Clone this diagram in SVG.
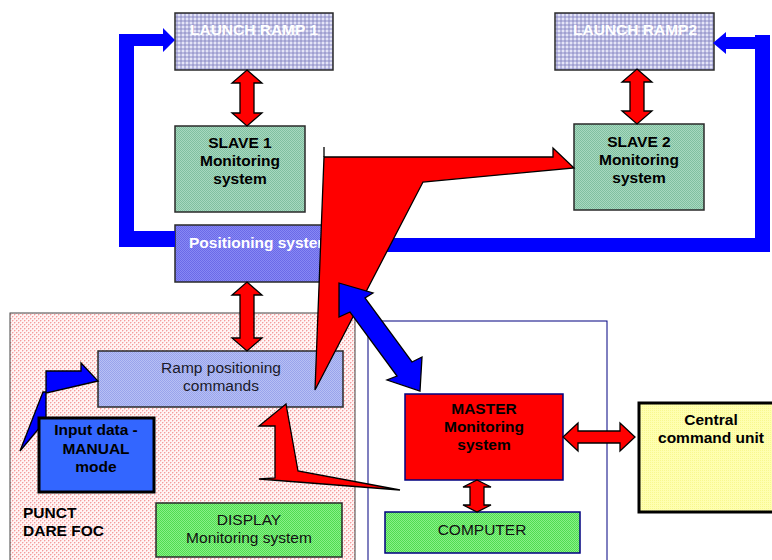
<svg xmlns="http://www.w3.org/2000/svg" width="772" height="560" viewBox="0 0 772 560">
<defs>
<pattern id="pLav" width="4" height="4" patternUnits="userSpaceOnUse"><rect width="4" height="4" fill="#e4e4f6"/><rect width="4" height="2" fill="#b8b8e0"/><rect width="2" height="4" fill="#b8b8e0"/><rect width="2" height="2" fill="#a0a0d0"/></pattern>
<pattern id="pSlave" width="2" height="2" patternUnits="userSpaceOnUse"><rect width="2" height="2" fill="#a8d8c0"/><rect width="1" height="1" fill="#80c0a0"/><rect x="1" y="1" width="1" height="1" fill="#80c0a0"/></pattern>
<pattern id="pPos" width="2" height="2" patternUnits="userSpaceOnUse"><rect width="2" height="2" fill="#8888f4"/><rect width="1" height="1" fill="#6a6ae8"/><rect x="1" y="1" width="1" height="1" fill="#6a6ae8"/></pattern>
<pattern id="pCmd" width="2" height="2" patternUnits="userSpaceOnUse"><rect width="2" height="2" fill="#b8c0f4"/><rect width="1" height="1" fill="#98a4ec"/><rect x="1" y="1" width="1" height="1" fill="#98a4ec"/></pattern>
<pattern id="pPink" width="4" height="4" patternUnits="userSpaceOnUse"><rect width="4" height="4" fill="#fff4f4"/><rect width="1" height="1" fill="#f49c9c"/><rect x="2" y="2" width="1" height="1" fill="#f49c9c"/><rect x="1" y="0" width="1" height="1" fill="#fad0d0"/><rect x="3" y="2" width="1" height="1" fill="#fad0d0"/><rect x="0" y="1" width="1" height="1" fill="#fad0d0"/><rect x="2" y="3" width="1" height="1" fill="#fad0d0"/></pattern>
<pattern id="pGreen" width="2" height="2" patternUnits="userSpaceOnUse"><rect width="2" height="2" fill="#88f088"/><rect width="1" height="1" fill="#50dc50"/><rect x="1" y="1" width="1" height="1" fill="#50dc50"/></pattern>
<pattern id="pYel" width="2" height="2" patternUnits="userSpaceOnUse"><rect width="2" height="2" fill="#ffffb0"/><rect width="1" height="1" fill="#f8f890"/></pattern>
<clipPath id="posClip"><rect x="175" y="225" width="145" height="57"/></clipPath>
<style>
text{font-family:"Liberation Sans",Arial,sans-serif;font-size:15.5px;text-anchor:middle}
.b{font-weight:bold}
.w{fill:#ffffff}
.k{fill:#000000}
.red{fill:#ff0000;stroke:#000;stroke-width:1.3;stroke-linejoin:miter}
.blue{fill:#0000ff;stroke:#000;stroke-width:1.3}
.bar{fill:#0000ff;stroke:none}
.box{stroke:#2a2a2a;stroke-width:1.5}
</style>
</defs>
<rect width="772" height="560" fill="#ffffff"/>

<g id="panel-punct">
<rect x="10" y="313" width="345" height="252" fill="url(#pPink)" stroke="#444" stroke-width="1"/>
<text class="b k" x="23" y="518" style="text-anchor:start">PUNCT</text>
<text class="b k" x="23" y="536" style="text-anchor:start">DARE FOC</text>
</g>
<g id="panel-master">
<rect x="368" y="321" width="239" height="245" fill="#ffffff" stroke="#000080" stroke-width="1"/>
</g>

<g id="launch-ramp-1">
<rect class="box" x="175" y="13" width="158" height="57" fill="url(#pLav)"/>
<text class="b w" x="254" y="35">LAUNCH RAMP 1</text>
</g>
<g id="launch-ramp-2">
<rect class="box" x="555" y="13" width="159" height="57" fill="url(#pLav)"/>
<text class="b w" x="635" y="35">LAUNCH RAMP2</text>
</g>
<g id="slave-1">
<rect class="box" x="175" y="126" width="130" height="86" fill="url(#pSlave)"/>
<text class="b k" x="240" y="148">SLAVE 1</text>
<text class="b k" x="240" y="166">Monitoring</text>
<text class="b k" x="240" y="184">system</text>
</g>
<g id="slave-2">
<rect class="box" x="574" y="124" width="130" height="86" fill="url(#pSlave)"/>
<text class="b k" x="639" y="147">SLAVE 2</text>
<text class="b k" x="639" y="165">Monitoring</text>
<text class="b k" x="639" y="183">system</text>
</g>
<g id="positioning-system">
<rect class="box" x="175" y="225" width="160" height="57" fill="url(#pPos)"/>
<text class="b w" x="189" y="248" style="text-anchor:start" clip-path="url(#posClip)">Positioning system</text>
</g>
<g id="ramp-commands">
<rect class="box" x="98" y="351" width="245" height="56" fill="url(#pCmd)"/>
<text x="221" y="373" fill="#1a1a2a">Ramp positioning</text>
<text x="221" y="391" fill="#1a1a2a">commands</text>
</g>
<g id="display">
<rect class="box" x="156" y="503" width="186" height="54" fill="url(#pGreen)"/>
<text x="249" y="525" fill="#111">DISPLAY</text>
<text x="249" y="543" fill="#111">Monitoring system</text>
</g>
<g id="master">
<rect x="405" y="394" width="158" height="86" fill="#ff0000" stroke="#000080" stroke-width="1.5"/>
<text class="b k" x="484" y="414">MASTER</text>
<text class="b k" x="484" y="432">Monitoring</text>
<text class="b k" x="484" y="450">system</text>
</g>
<g id="computer">
<rect x="385" y="512" width="195" height="41" fill="url(#pGreen)" stroke="#000080" stroke-width="1.5"/>
<text x="482" y="535" fill="#111">COMPUTER</text>
</g>
<g id="central-command">
<rect x="639" y="403" width="140" height="109" fill="url(#pYel)" stroke="#000" stroke-width="3"/>
<text class="b k" x="711" y="425">Central</text>
<text class="b k" x="711" y="443">command unit</text>
</g>

<g id="connectors">
<polygon class="bar" points="175,231 134,231 134,46 163,46 163,52 175,40 163,28 163,34 119,34 119,247 175,247"/>
<polygon class="bar" points="320,238 755,238 755,49 726,49 726,54 713,43 726,32 726,37 755,37 755,35 770,35 770,252 320,252"/>
<polygon class="red" points="247,70 262,83 254,83 254,113 262,113 247,126 232,113 240,113 240,83 232,83"/>
<polygon class="red" points="637,69 652,82 644,82 644,111 652,111 637,124 622,111 630,111 630,82 622,82"/>
<polygon class="red" points="247,282 262,295 254,295 254,338 262,338 247,351 232,338 240,338 240,295 232,295"/>
<polygon class="red" points="477,480 491,487 484,487 484,505 491,505 477,512 463,505 470,505 470,487 463,487"/>
<polygon class="red" points="563,437 578,423 578,431 620,431 620,423 635,437 620,451 620,443 578,443 578,451"/>
<polygon class="red" points="324,157 553,157 553,148 574,168 423,182 315,390"/>
<line x1="324" y1="147" x2="324" y2="157" stroke="#000" stroke-width="1.3"/>
<polygon class="red" points="286,404 259,426 275,426 275,478 259,479 400,490 298,471"/>
<polygon class="blue" points="339,283 373,293 365,298 412,362 422,357 420,391 387,380 397,376 350,312 339,317"/>
<polygon class="blue" points="20,451 43,392 46,392 46,371 81,371 81,363 98,381 46,393 46,420"/>
</g>

<g id="input-data">
<rect x="39" y="418" width="115" height="74" fill="#3366ff" stroke="#000" stroke-width="3"/>
<text class="b k" x="96" y="435">Input data -</text>
<text class="b k" x="96" y="454">MANUAL</text>
<text class="b k" x="96" y="472">mode</text>
</g>
</svg>
